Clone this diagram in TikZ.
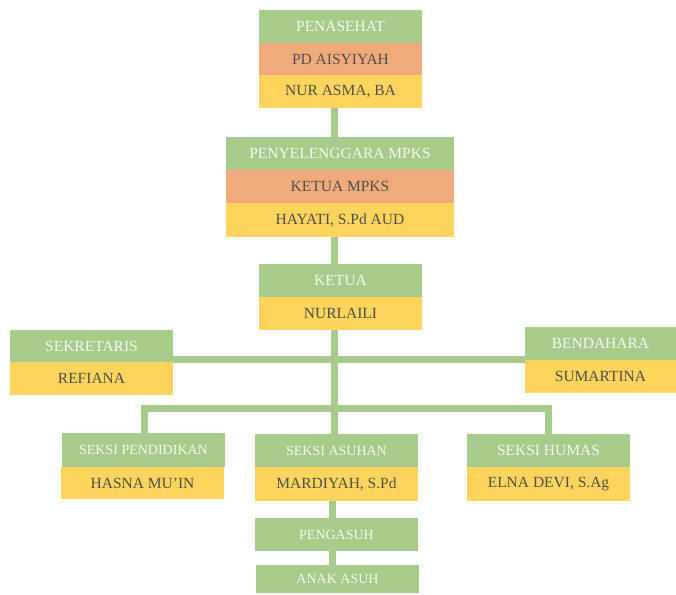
\documentclass[tikz,border=0pt]{standalone}
\usepackage{fontspec}
\setmainfont{Liberation Serif}
\usetikzlibrary{backgrounds}
\definecolor{gr}{HTML}{A6CB8B}
\definecolor{orng}{HTML}{F1AA7C}
\definecolor{ye}{HTML}{FDD55C}
\definecolor{tx}{HTML}{4F4F4F}
\definecolor{hdtx}{HTML}{F7F7F2}
\newcommand\fsz[1]{\fontsize{#1}{#1}\selectfont}
\tikzset{
  box/.style={rectangle, inner sep=0pt, outer sep=0pt, anchor=north west, font=\fsz{15.5}},
  hd/.style={box, fill=gr, text=hdtx},
  og/.style={box, fill=orng, text=tx},
  yl/.style={box, fill=ye, text=tx},
  link/.style={draw=gr, line width=7pt, line join=miter},
}
\begin{document}
\begin{tikzpicture}[x=1pt, y=-1pt]
\useasboundingbox (0,0) rectangle (676,594);
% PENASEHAT
\node[hd, minimum width=163pt, minimum height=33pt] (pen1) at (259,10) {PENASEHAT};
\node[og, minimum width=163pt, minimum height=32pt] (pen2) at (259,43) {PD AISYIYAH};
\node[yl, minimum width=163pt, minimum height=33pt] (pen3) at (259,75) {NUR ASMA, BA};
% PENYELENGGARA
\node[hd, minimum width=228pt, minimum height=33pt] (pny1) at (226,137) {PENYELENGGARA MPKS};
\node[og, minimum width=228pt, minimum height=33pt] (pny2) at (226,170) {KETUA MPKS};
\node[yl, minimum width=228pt, minimum height=34pt] (pny3) at (226,203) {HAYATI, S.Pd AUD};
% KETUA
\node[hd, minimum width=163pt, minimum height=33pt] (ket1) at (259,264) {KETUA};
\node[yl, minimum width=163pt, minimum height=33pt] (ket2) at (259,297) {NURLAILI};
% SEKRETARIS
\node[hd, minimum width=163pt, minimum height=32pt] (sek1) at (10,330) {SEKRETARIS};
\node[yl, minimum width=163pt, minimum height=33pt] (sek2) at (10,362) {REFIANA};
% BENDAHARA
\node[hd, minimum width=151pt, minimum height=33pt] (ben1) at (525,327) {BENDAHARA};
\node[yl, minimum width=151pt, minimum height=33pt] (ben2) at (525,360) {SUMARTINA};
% SEKSI PENDIDIKAN
\node[hd, minimum width=163pt, minimum height=34pt, font=\fsz{14}] (spd1) at (62,433) {SEKSI PENDIDIKAN};
\node[yl, minimum width=163pt, minimum height=32pt] (spd2) at (61,467) {HASNA MU’IN};
% SEKSI ASUHAN
\node[hd, minimum width=163pt, minimum height=33pt, font=\fsz{14}] (sas1) at (255,434) {SEKSI ASUHAN};
\node[yl, minimum width=163pt, minimum height=34pt] (sas2) at (255,467) {MARDIYAH, S.Pd};
% SEKSI HUMAS
\node[hd, minimum width=163pt, minimum height=33pt] (shu1) at (467,434) {SEKSI HUMAS};
\node[yl, minimum width=163pt, minimum height=34pt] (shu2) at (467,467) {ELNA DEVI, S.Ag};
% PENGASUH / ANAK ASUH
\node[hd, minimum width=163pt, minimum height=33pt, font=\fsz{14}] (pgs) at (255,518) {PENGASUH};
\node[hd, minimum width=163pt, minimum height=28pt, font=\fsz{14}] (ank) at (256,565) {ANAK ASUH};
% helper coordinates
\coordinate (spine) at (334,0);
\coordinate (spineb) at (332.5,0);
\coordinate (hy) at (0,359.5);
\coordinate (busL) at (144,408.5);
\coordinate (busR) at (548,408.5);
\begin{scope}[on background layer]
\draw[link] (pen3.south -| spine) -- (pny1.north -| spine);
\draw[link] (pny3.south -| spine) -- (ket1.north -| spine);
\draw[link] (ket2.south -| spine) -- (sas1.north -| spine);
\draw[link] (sek1.east |- hy) -- (ben1.west |- hy);
\draw[link] (spd1.north -| busL) -- (busL) -- (busR) -- (shu1.north -| busR);
\draw[link] (sas2.south -| spineb) -- (pgs.north -| spineb);
\draw[link] (pgs.south -| spineb) -- (ank.north -| spineb);
\end{scope}
\end{tikzpicture}
\end{document}
